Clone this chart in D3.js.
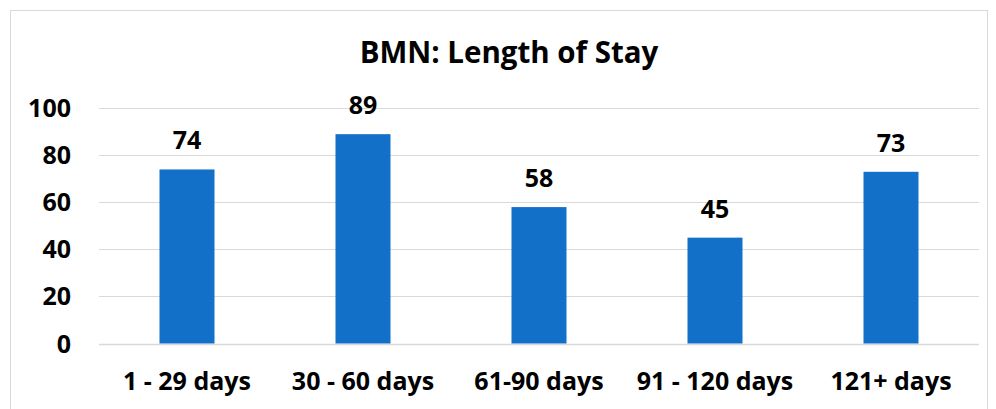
<!DOCTYPE html>
<html><head><meta charset="utf-8">
<script src="https://cdn.jsdelivr.net/npm/d3@7"></script>
<style>body{margin:0;background:#fff}svg text{font-family:"Open Sans",Lato,sans-serif;font-weight:bold;fill:#000}</style>
</head><body>
<svg id="c" width="996" height="409"></svg>
<script>
const categories = ["1 - 29 days","30 - 60 days","61-90 days","91 - 120 days","121+ days"];
const values = [74,89,58,45,73];
const yTicks = [0,20,40,60,80,100];
const title = "BMN: Length of Stay";

const svg = d3.select("#c");
svg.append("rect").attr("x",10.5).attr("y",10.5).attr("width",977).attr("height",420)
  .attr("fill","none").attr("stroke","#d9d9d9");

const x = d3.scaleBand().domain(categories).range([99,979]).paddingInner(0.6875).paddingOuter(0.34375);
const y = d3.scaleLinear().domain([0,100]).range([343.5,108.3]);

svg.append("g").selectAll("line").data(yTicks).join("line")
  .attr("x1",99).attr("x2",979).attr("y1",d=>Math.round(y(d))+0.5).attr("y2",d=>Math.round(y(d))+0.5)
  .attr("stroke","#d9d9d9").attr("stroke-width",d=>d===0?1.5:1.2);

svg.append("g").selectAll("text").data(yTicks).join("text")
  .attr("x",71).attr("y",d=>y(d)+9).attr("text-anchor","end").attr("font-size",25).text(d=>d);

svg.append("g").selectAll("text").data(values).join("text")
  .attr("x",(d,i)=>x(categories[i])+x.bandwidth()/2).attr("y",d=>y(d)-20)
  .attr("text-anchor","middle").attr("font-size",25).text(d=>d);

svg.append("g").selectAll("rect").data(values).join("rect")
  .attr("x",(d,i)=>x(categories[i])).attr("width",x.bandwidth())
  .attr("y",d=>y(d)).attr("height",d=>y(0)-y(d)).attr("fill","#1270C8");

svg.append("g").selectAll("text").data(categories).join("text")
  .attr("x",d=>x(d)+x.bandwidth()/2).attr("y",390).attr("text-anchor","middle").attr("font-size",25).text(d=>d);

svg.append("text").attr("x",509).attr("y",63).attr("text-anchor","middle").attr("font-size",29.5).text(title);
</script>
</body></html>
